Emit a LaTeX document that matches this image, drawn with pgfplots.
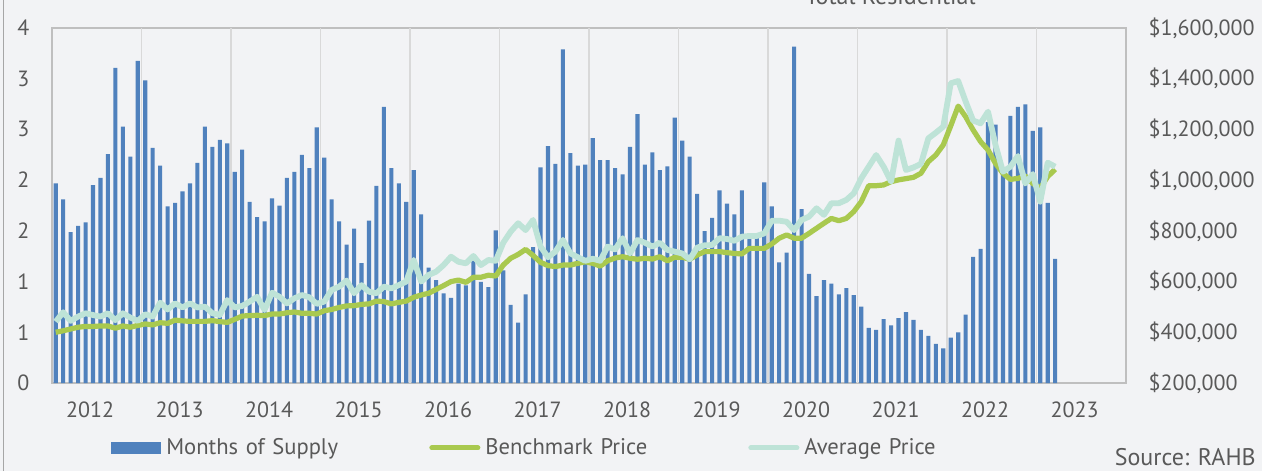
\documentclass[border=0pt]{standalone}
\usepackage{fontspec}
\setmainfont{PT Sans}
\usepackage{pgfplots}
\usepackage{pgfplotstable}
\pgfplotsset{compat=1.18}
\definecolor{barblue}{HTML}{4F81BD}
\definecolor{bench}{HTML}{A9C94F}
\definecolor{avgc}{HTML}{BEE3D7}
\definecolor{bg}{HTML}{F2F3F5}
\definecolor{txt}{HTML}{595959}
\definecolor{gridc}{HTML}{D9D9D9}
\definecolor{framec}{HTML}{BFBFBF}

% i = month index, m = months of supply, b = benchmark price, a = average price (k$)
\pgfplotstableread{
i m b a
0 2.25 400 442
1 2.07 406 479
2 1.70 413 445
3 1.77 420 462
4 1.81 423 475
5 2.23 423 468
6 2.31 425 462
7 2.58 425 475
8 3.55 416 448
9 2.89 425 475
10 2.55 420 458
11 3.63 427 445
12 3.41 433 471
13 2.65 429 462
14 2.45 438 517
15 1.99 435 490
16 2.03 448 514
17 2.16 445 498
18 2.25 443 514
19 2.48 443 498
20 2.89 443 501
21 2.66 446 475
22 2.74 442 468
23 2.70 439 527
24 2.38 451 498
25 2.63 464 504
26 2.04 466 521
27 1.87 467 540
28 1.82 466 488
29 2.08 472 556
30 2.00 472 540
31 2.31 477 514
32 2.38 480 534
33 2.57 475 547
34 2.42 475 538
35 2.88 472 512
36 2.54 485 521
37 2.07 490 567
38 1.82 498 580
39 1.56 504 604
40 1.74 505 554
41 1.35 510 586
42 1.83 512 560
43 2.22 523 554
44 3.11 521 580
45 2.42 512 573
46 2.25 518 586
47 2.04 523 600
48 2.40 538 685
49 1.90 547 600
50 1.30 554 626
51 1.16 569 639
52 1.01 584 665
53 0.96 600 698
54 1.12 606 678
55 1.10 597 672
56 1.38 617 701
57 1.14 617 665
58 1.08 625 685
59 1.72 622 682
60 1.27 665 753
61 0.88 692 797
62 0.68 707 830
63 1.00 727 803
64 1.53 703 843
65 2.43 676 738
66 2.67 663 696
67 2.47 659 718
68 3.76 665 764
69 2.59 665 711
70 2.45 672 696
71 2.46 678 682
72 2.76 672 690
73 2.51 661 682
74 2.51 682 738
75 2.42 693 727
76 2.35 698 771
77 2.66 692 711
78 3.03 688 764
79 2.46 692 753
80 2.60 689 738
81 2.40 698 753
82 2.44 682 725
83 2.99 696 718
84 2.73 696 711
85 2.55 688 688
86 2.13 705 734
87 1.71 718 743
88 1.86 718 744
89 2.17 718 771
90 2.02 714 768
91 1.90 711 761
92 2.17 709 777
93 1.69 731 780
94 1.66 731 780
95 2.26 731 790
96 1.99 748 840
97 1.36 771 840
98 1.47 784 836
99 3.79 771 803
100 1.96 771 843
101 1.23 790 856
102 0.98 810 889
103 1.16 830 863
104 1.12 849 909
105 1.00 840 909
106 1.07 849 922
107 0.99 876 948
108 0.86 915 1007
109 0.62 978 1053
110 0.60 978 1099
111 0.72 981 1053
112 0.65 994 994
113 0.73 1001 1156
114 0.80 1006 1040
115 0.71 1011 1050
116 0.60 1027 1064
117 0.53 1073 1165
118 0.44 1099 1187
119 0.39 1139 1211
120 0.51 1214 1382
121 0.57 1292 1391
122 0.77 1250 1310
123 1.42 1198 1235
124 1.51 1152 1224
125 2.94 1119 1270
126 2.91 1066 1139
127 2.40 1027 1033
128 3.01 1003 1053
129 3.11 1007 1095
130 3.14 1016 987
131 2.84 987 1024
132 2.88 968 915
133 2.03 1014 1069
134 1.40 1043 1053
}\datatable

\pgfplotsset{
  every axis/.append style={
    scale only axis, width=537pt, height=177.5pt,
    at={(26pt,44pt)}, anchor=south west,
    xmin=-0.5, xmax=143.5,
    tick style={draw=none},
    tick label style={font=\fontsize{11}{13}\selectfont, text=txt},
  },
}

\begin{document}
\begin{tikzpicture}
  \fill[bg] (0,0) rectangle (631pt,235.5pt);
  \draw[color=black!35, line width=0.6pt] (1.75pt,0) -- (1.75pt,235.5pt);

  \begin{axis}[
    ymin=0, ymax=4,
    axis line style={draw=framec, line width=0.7pt},
    ytick={0,0.571429,1.142857,1.714286,2.285714,2.857143,3.428571,4},
    yticklabels={0,1,1,2,2,3,3,4},
    yticklabel style={xshift=-7.8pt},
    xtick={4.6,16.6,28.6,40.6,52.6,64.6,76.6,88.6,100.6,112.6,124.6,136.6},
    xticklabels={2012,2013,2014,2015,2016,2017,2018,2019,2020,2021,2022,2023},
    xticklabel style={yshift=-6pt},
    extra x ticks={11.5,23.5,35.5,47.5,59.5,71.5,83.5,95.5,107.5,119.5,131.5},
    extra x tick labels={},
    extra x tick style={grid=major, major grid style={draw=gridc, line width=0.8pt}},
    legend columns=3,
    legend style={at={(0.0549,-0.183)}, anchor=west, draw=none, fill=none,
      inner sep=0pt, column sep=0pt,
      nodes={inner xsep=2.5pt, text width=129pt, align=left, text=txt,
        font=\fontsize{11.3}{13}\selectfont}},
  ]
    \addplot[ybar, bar width=0.55, fill=barblue, draw=none,
      legend image code/.code={\fill[barblue] (0pt,-3pt) rectangle (25pt,3pt);}]
      table[x=i, y=m] {\datatable};
    \addlegendimage{legend image code/.code={%
      \draw[line width=2.5pt, bench, line cap=round] (1pt,0pt) -- (24pt,0pt);}}
    \addlegendimage{legend image code/.code={%
      \draw[line width=2.5pt, avgc, line cap=round] (1pt,0pt) -- (24pt,0pt);}}
    \legend{Months of Supply, Benchmark Price, Average Price}
  \end{axis}

  \begin{axis}[
    ymin=200, ymax=1600,
    axis x line=none, axis y line*=right,
    axis line style={draw=none},
    ytick={200,400,600,800,1000,1200,1400,1600},
    yticklabels={{\$200,000},{\$400,000},{\$600,000},{\$800,000},
      {\$1,000,000},{\$1,200,000},{\$1,400,000},{\$1,600,000}},
    yticklabel style={anchor=west, xshift=7.8pt},
  ]
    \addplot[bench, line width=2.6pt, line join=round, no marks]
      table[x=i, y=b] {\datatable};
    \addplot[avgc, line width=2.9pt, line join=round, no marks]
      table[x=i, y=a] {\datatable};
  \end{axis}

  \node[anchor=base west, inner sep=0pt, text=txt, font=\fontsize{12}{14}\selectfont]
    at (402.5pt,233pt) {Total Residential};
  \node[anchor=east, inner sep=0pt, text=txt, font=\fontsize{12}{14}\selectfont]
    at (628pt,7pt) {Source: RAHB};

  \pgfresetboundingbox
  \useasboundingbox (0,0) rectangle (631pt,235.5pt);
\end{tikzpicture}
\end{document}
